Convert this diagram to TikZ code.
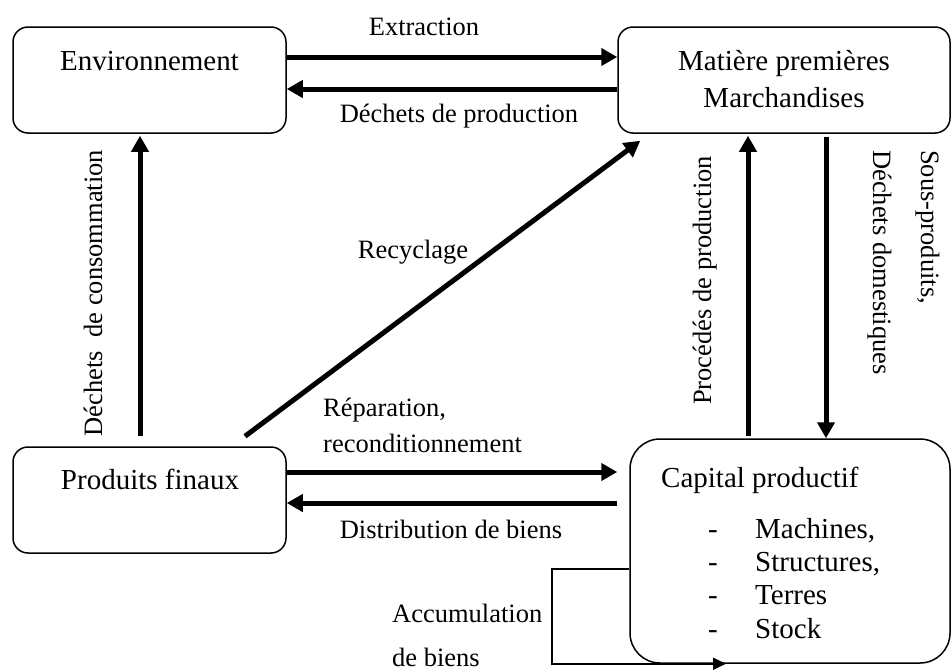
\documentclass[tikz,border=0pt]{standalone}
\usepackage{fontspec}
\setmainfont{Liberation Serif}
\usetikzlibrary{arrows.meta}
\begin{document}
\begin{tikzpicture}[x=1pt,y=-1pt,
  box/.style={draw,line width=1.5pt,rounded corners=15pt,inner sep=0pt},
  flow/.style={line width=5pt,-{Triangle[length=16pt,width=17pt]}},
  thinflow/.style={line width=1.7pt,-{Triangle[length=13pt,width=12pt]}},
  big/.style={font=\fontsize{29}{34}\selectfont,inner sep=0pt},
  lab/.style={font=\fontsize{26.5}{32}\selectfont,inner sep=0pt},
]
\useasboundingbox (0,0) rectangle (952,670);
% boxes
\node[box,minimum width=273pt,minimum height=106pt] (env) at (149.5,80) {};
\node[box,minimum width=332pt,minimum height=106pt] (mat) at (784,80) {};
\node[box,minimum width=273pt,minimum height=106pt] (prod) at (149.5,500) {};
\node[box,rounded corners=30pt,minimum width=320pt,minimum height=224pt] (cap) at (790,551) {};
% box texts
\node[big,anchor=base] (tenv) at (149.5,70) {Environnement};
\node[big,anchor=base] (tmat1) at (784,70) {Matière premières};
\node[big,anchor=base] (tmat2) at (784,107) {Marchandises};
\node[big,anchor=base] (tprod) at (150,489) {Produits finaux};
\node[big,anchor=base west] (tcap) at (661,487) {Capital productif};
\node[big,anchor=base] (d1) at (713,538) {-};
\node[big,anchor=base] (d2) at (713,571) {-};
\node[big,anchor=base] (d3) at (713,604) {-};
\node[big,anchor=base] (d4) at (713,638) {-};
\node[big,anchor=base west] (i1) at (755,538) {Machines,};
\node[big,anchor=base west] (i2) at (755,571) {Structures,};
\node[big,anchor=base west] (i3) at (755,604) {Terres};
\node[big,anchor=base west] (i4) at (755,638) {Stock};
% arrows
\draw[flow] ([shift={(0,-23)}]env.east) -- ([shift={(0,-23)}]mat.west);
\draw[flow] ([shift={(0,9)}]mat.west) -- ([shift={(0,9)}]env.east);
\draw[flow] ([shift={(-9.5,-10)}]prod.north) -- ([shift={(-9.5,2)}]env.south);
\draw[flow] ([shift={(95.5,-10)}]prod.north) -- ([shift={(23,7)}]mat.south west);
\draw[flow] ([shift={(0,-28)}]prod.east) -- ([shift={(-12,-79)}]cap.west);
\draw[flow] ([shift={(-12,-48)}]cap.west) -- ([shift={(0,3)}]prod.east);
\draw[flow] ([shift={(-42,-2)}]cap.north) -- ([shift={(-36,2)}]mat.south);
\draw[flow] ([shift={(42,3)}]mat.south) -- ([shift={(36,0)}]cap.north);
\coordinate (accL) at ([shift={(-77,18)}]cap.west);
\draw[thinflow] ([shift={(0,18)}]cap.west) -- (accL) |- ([shift={(-64,0)}]cap.south);
% labels
\node[lab,anchor=base] (lext) at (424,35) {Extraction};
\node[lab,anchor=base] (ldp) at (459,122) {Déchets de production};
\node[lab,anchor=base] (lrec) at (413,258) {Recyclage};
\node[lab,anchor=base west] (lrep1) at (323,416) {Réparation,};
\node[lab,anchor=base west] (lrep2) at (323,452) {reconditionnement};
\node[lab,anchor=base] (ldist) at (451,538) {Distribution de biens};
\node[lab,anchor=base west] (lacc1) at (392,622) {Accumulation};
\node[lab,anchor=base west] (lacc2) at (392,666) {de biens};
\node[lab,anchor=base,rotate=90] (lcons) at (102,293) {Déchets\ \ de consommation};
\node[lab,anchor=base west,rotate=90] (lproc) at (711,405) {Procédés de production};
\node[lab,anchor=base west,rotate=-90] (lsous) at (921,150) {Sous-produits,};
\node[lab,anchor=base west,rotate=-90] (ldom) at (873,150) {Déchets domestiques};
\end{tikzpicture}
\end{document}
